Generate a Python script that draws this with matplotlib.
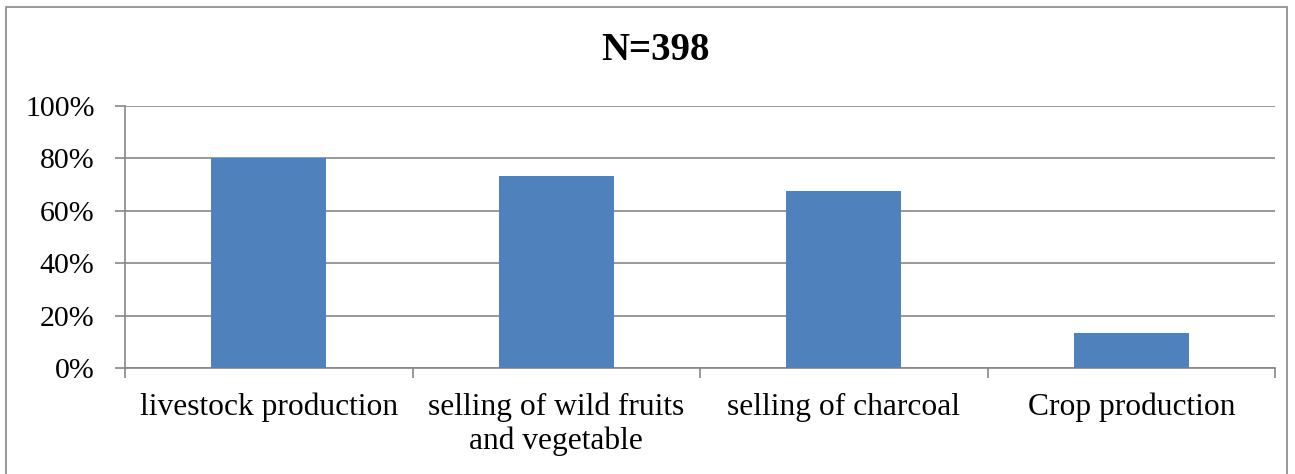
import numpy as np
import matplotlib.pyplot as plt
from matplotlib.patches import Rectangle
from matplotlib.ticker import FixedLocator

categories = ["livestock production", "selling of wild fruits\nand vegetable",
              "selling of charcoal", "Crop production"]
values = [0.80, 0.733, 0.676, 0.134]
yticks = [0, 0.2, 0.4, 0.6, 0.8, 1.0]
ytick_labels = ["0%", "20%", "40%", "60%", "80%", "100%"]

plt.rcParams['font.family'] = ['Liberation Serif', 'DejaVu Serif']

fig = plt.figure(figsize=(12.95, 4.74), dpi=100)
ax = fig.add_axes([125/1295, 1-368/474, 1150/1295, 262/474])

x = np.arange(len(categories))
ax.bar(x, values, width=0.4, color='#4f81bd', zorder=3)
ax.set_xlim(-0.5, len(categories)-0.5)
ax.set_ylim(0, 1.0)
ax.set_yticks(yticks)
ax.set_yticklabels(ytick_labels, fontsize=21.5)
ax.yaxis.grid(True, color='#868686', linewidth=1.2, zorder=0)
ax.tick_params(axis='y', length=7, width=1.2, color='#868686', pad=15)

ax.set_xticks(x)
ax.set_xticklabels(categories, fontsize=22.7, linespacing=1.2)
ax.tick_params(axis='x', which='major', length=0, pad=18)
ax.xaxis.set_minor_locator(FixedLocator(np.arange(-0.5, len(categories), 1.0)))
ax.tick_params(axis='x', which='minor', length=7, width=1.2, color='#868686')

for s in ['top', 'right']:
    ax.spines[s].set_visible(False)
ax.spines['left'].set_color('#868686')
ax.spines['bottom'].set_color('#868686')
ax.spines['left'].set_linewidth(1.2)
ax.spines['bottom'].set_linewidth(1.2)

fig.text(655/1295, 1-50/474, "N=398", fontsize=28, fontweight='bold',
         ha='center', va='center')

fig.patches.append(Rectangle((6/1295, -0.1), 1281/1295, 1.1-7/474,
                             transform=fig.transFigure, fill=False,
                             edgecolor='#868686', linewidth=1.2))

fig.savefig("out.png", dpi=100)
